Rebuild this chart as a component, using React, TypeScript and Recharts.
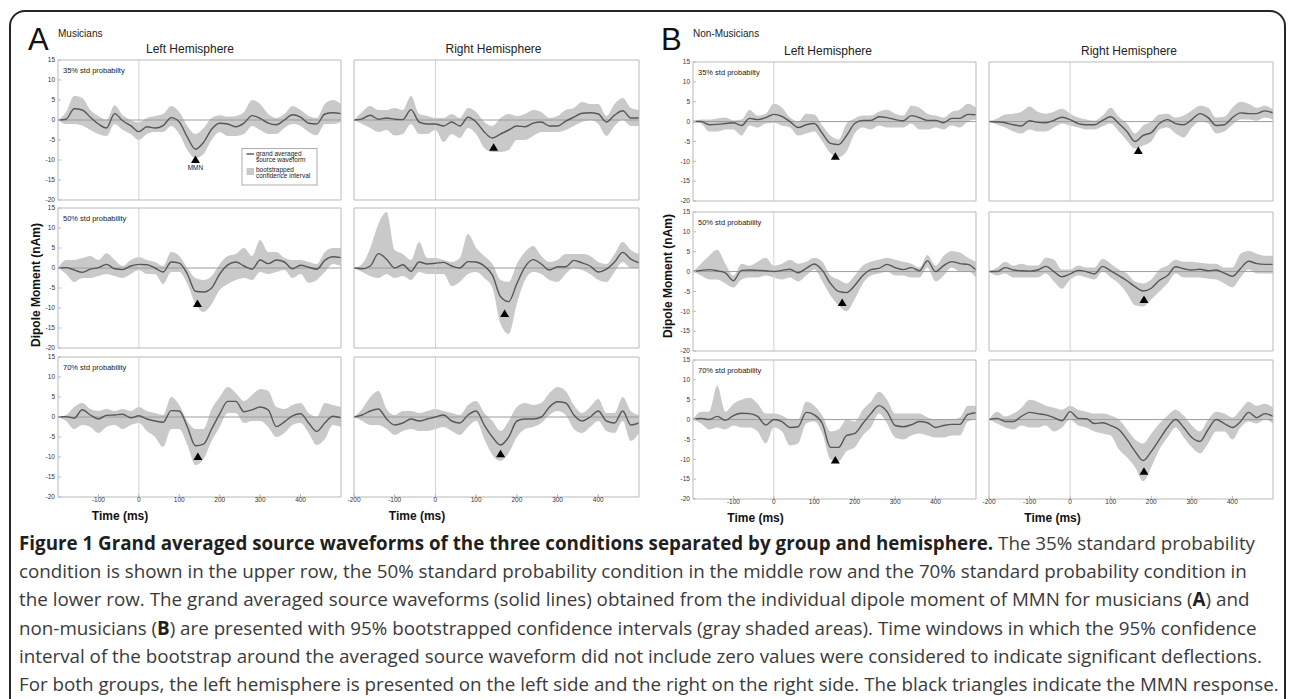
import {
    Area,
    ComposedChart,
    Line,
    ReferenceDot,
    ReferenceLine,
    XAxis,
    YAxis,
} from 'recharts';

// time axis (ms), sampled every 20 ms
const times = [
    -200, -180, -160, -140, -120, -100, -80, -60, -40, -20, 0, 20, 40, 60, 80, 100, 120, 140,
    160, 180, 200, 220, 240, 260, 280, 300, 320, 340, 360, 380, 400, 420, 440, 460, 480, 500,
];
const momentTicks = [-20, -15, -10, -5, 0, 5, 10, 15];
const innerTimeTicks = [-100, 0, 100, 200, 300, 400];
const edgeTimeTicks = [-200, -100, 0, 100, 200, 300, 400];

// Musicians, left hemisphere, 35%
const musL35Mean = [0, 0.2, 2.8, 2.5, 0.7, -1, -2, 1.6, -0.2, -1.4, -2.9, -1.7, -2, -1.4, 0.6, -0.5, -4.3, -7.3, -5.6, -2.3, -0.8, -1, -1.7, -0.8, 1.1, 0.4, -0.8, -1.2, 0, 1.3, 0.7, -0.8, -1, 1.5, 1.8, 1.6];
const musL35High = [0, 2, 6, 5.5, 2.5, 1, 0, 3.7, 1.2, 0, -0.6, 0.5, 1, 1.5, 3.5, 2, -1.5, -3.5, -2, 0.5, 1.2, 0.8, 1, 2, 5, 4, 1.5, 0.5, 1.5, 3.5, 2.5, 1, 0.5, 4, 5, 4];
const musL35Low = [0, -1, -1, -1.4, -2.5, -3.5, -4, -1, -2.5, -3.5, -5, -3.5, -3, -3, -1.5, -3.5, -7.5, -9.5, -8.5, -5, -3, -4, -4, -3.5, -1.5, -2.5, -3.5, -3.5, -2, -1, -1.5, -3, -3.8, -1, -1, -0.5];

// Musicians, right hemisphere, 35%
const musR35Mean = [0, 0.3, 1.2, 0.2, 0.5, 0.2, 0.1, 2.6, -0.5, -1, -1, -1.5, -0.5, -1.5, 0.7, -0.5, -3, -4.5, -3.5, -2.5, -1.5, -1.7, -0.8, -0.5, -1.5, -1.5, -0.3, 0.7, 1.7, 1.8, 1.5, -0.5, 1.2, 2.3, 0.5, 0.5];
const musR35High = [0, 2, 3.5, 2.5, 2.5, 3, 2.5, 6, 1.5, 1, 0.5, 0.5, 1.5, 0.5, 3, 2, -0.5, -1.5, 0.5, 1.5, 1, 1.5, 2.5, 2, 0.5, 1, 2.5, 3, 4.5, 4, 4, 1, 4, 5.5, 3, 2.5];
const musR35Low = [0, -1, -2, -3, -2.5, -3.9, -3.5, -1, -3.5, -3.5, -2.5, -5.5, -3.5, -4.5, -2, -3.5, -7, -8, -8, -7.5, -5, -5, -4, -3, -3, -3, -2.5, -1.5, -0.5, 0, -1, -4, -1.5, 0, -1.5, -1.5];

// Musicians, left hemisphere, 50%
const musL50Mean = [0, 0.1, -0.5, -1.1, -0.3, 0.1, 0.9, -0.2, -0.4, 0.5, 0.9, 0.8, 0, -1, 1.5, 1.2, -1.5, -5.8, -6, -5, -1.5, 0.8, 1.5, 0.5, -0.3, 2, 1.1, 2, 1.5, -0.2, 0.7, 0.2, -0.3, 1.9, 2.8, 2.6];
const musL50High = [0, 2, 2, 2.5, 3, 2, 3.7, 2, 0.5, 2, 2.7, 2, 1.5, 0.5, 4, 3, 0, -2.5, -3, -2, 1, 3, 3.5, 5, 3, 7, 4, 4, 2.5, 2, 2, 1.5, 1, 4, 5, 5];
const musL50Low = [0, -1.5, -3.5, -2.5, -2.5, -2, -1.5, -2, -2.5, -1.5, -0.5, -1.5, -1.5, -4, -1, -1, -4, -9, -11, -9, -5.5, -4, -3, -2.5, -3, -1, -1.5, -1, -0.5, -2.5, -1.5, -3.7, -3, -1, 1, 0.5];

// Musicians, right hemisphere, 50%
const musR50Mean = [0, -0.2, 0.5, 3.6, 2.2, 0, 0.8, -0.8, 1.5, 1, 1.2, 1.4, 0.5, 0, 1.6, 1.5, 0.5, -1.8, -7.2, -8.4, -3.9, 0.3, 2.1, 1, -0.5, 0.3, 0.3, 1.9, 1.3, 0.5, -1, -0.3, 1.5, 3.9, 2.2, 1.3];
const musR50High = [0, 1, 5, 11, 14, 4.5, 3.5, 2, 6.5, 2.5, 2.5, 2, 1.5, 2.5, 8.5, 5, 3, 1, -3, -3.5, 1, 4, 5.5, 3, 1.5, 2, 3.5, 3.5, 3.5, 3, 1.5, 1, 3.5, 6.5, 4.5, 3.5];
const musR50Low = [0, -1, -2, -2.5, -1.5, -2.5, -2, -3, -1, -1.5, -1.5, -1.5, -4.5, -3.5, -1.5, -1, -2.5, -5, -14, -16.5, -9, -3, -1, -1.5, -3, -3.5, -1.5, 0, -0.5, -1.5, -3, -3.5, -1, 1.5, 0, 0];

// Musicians, left hemisphere, 70%
const musL70Mean = [0, 0.1, -0.3, 1.8, 0.5, -0.5, 0.4, 0.5, 0.7, -0.2, 0.3, -0.5, -1, -1.3, 1.6, 1.5, -2.5, -7.2, -6.8, -3, 0.8, 3.9, 3.9, 1.3, 1.8, 2.5, 1.8, -2.4, -1.2, 0.3, 0.8, -1.5, -3.6, -1.5, 0.2, -0.2];
const musL70High = [0, 0.5, 2.5, 3.5, 2, 1.5, 2, 1.5, 2, 1.5, 2.5, 1.5, 1, 0.5, 5, 3, -1, -3, -3, 2, 5, 7.5, 6, 4, 5.5, 7, 6.5, 2.5, 2, 3, 3.5, 1, 0, 3.5, 3, 2.5];
const musL70Low = [0, -1, -3, -2, -2.5, -4, -2.5, -2, -3, -2, -1.5, -3.5, -5, -7.5, -3, -3, -7, -12, -10.5, -6, -2.5, 1, 1, -1.5, -1, -1, -2.5, -5, -4, -2, -1.5, -4, -7, -5.5, -2, -2.5];

// Musicians, right hemisphere, 70%
const musR70Mean = [0, 0.5, 1.5, 2, -0.5, -2, -1.5, -0.5, -1, -0.5, 0, 0.5, -1, -1.5, 0.5, 1.5, -2, -5, -7, -5, -1, -0.5, -0.5, 0, 2.5, 3.8, 3.5, 0.5, -1, 0, 1.5, -1, -1.5, 1.5, -2, -1.5];
const musR70High = [0, 2, 5, 6.5, 2, 0.5, 1.5, 1.5, 1, 1.5, 2, 1.5, 1, 0.5, 3, 4, 1, -1, -3.5, -1, 2.5, 3.5, 3, 3.5, 6, 7.5, 6.5, 3, 1, 2.5, 4.5, 1, 1, 5, 1.5, 0.5];
const musR70Low = [0, -1, -2, -2, -3, -4.5, -3.5, -3, -3.5, -3.5, -3, -2.5, -3.5, -4.5, -2.5, -1, -5.5, -9.5, -11, -9, -5, -3, -2.5, -1.5, 0.5, 1.5, 0.5, -3, -4, -2.5, -1, -3.5, -4, -1, -6, -4];

// Non-musicians, left hemisphere, 35%
const nonL35Mean = [0, 0, -0.8, -0.7, -0.5, -0.3, -1, 0.8, 0.5, 1, 1.8, 1.3, 0, -1.5, -0.8, -0.5, -3, -5.5, -5.8, -3.5, -0.5, 0.3, 0.3, 1.2, 1, 0.5, 0.2, 1.5, 1, 0.3, 0.3, -0.3, 0.8, 0.8, 1.8, 1.7];
const nonL35High = [0, 0.5, 0.5, 0.8, 1, 0.3, 0.5, 3, 1.5, 2, 4.5, 3.5, 1, 0, 2, 1.8, -1, -3.5, -4.5, -0.5, 0.8, 1.5, 1.5, 2.5, 3, 2, 1.5, 4, 3.5, 2, 1.5, 1, 2.5, 3, 4.5, 3.5];
const nonL35Low = [0, -0.5, -2.5, -2.5, -2, -2, -3.5, -1, -1.5, -0.5, -0.3, -1, -1.5, -3.5, -3, -2.5, -5, -8, -9, -7.5, -3, -1.5, -2, -1, -1.5, -1.5, -1.5, -0.5, -2, -2, -1.5, -2, -1, -1.5, 0, 0.5];

// Non-musicians, right hemisphere, 35%
const nonR35Mean = [0, -0.1, -0.3, -0.8, -1.1, 0.2, -0.2, -0.3, 0.3, 1.1, 0.5, -0.5, -0.8, -0.8, 0.3, 1.2, -0.5, -2.5, -5, -3.5, -2.8, -0.5, 0.5, -0.5, -0.8, 0.5, 2, 1, -1, -0.8, 1, 2.2, 2, 2, 2.7, 2.2];
const nonR35High = [0, 0.8, 1.8, 2, 2.5, 3.8, 2.5, 2, 2.5, 3.2, 2, 1, 0.5, 0.2, 1.5, 3.5, 1.2, -0.5, -3, -1, 0, 1.8, 2, 1, 1.5, 2.8, 4, 3.5, 1, 1.2, 3.5, 5, 4.5, 3.5, 4, 3];
const nonR35Low = [0, -0.8, -1.5, -2.5, -3, -2, -2.5, -2.5, -1.5, -0.5, -1, -1.5, -2, -2, -1.2, -0.5, -2.5, -4.8, -6.8, -6, -5, -2, -1.5, -3, -4, -1.5, 0, -0.5, -3, -2.5, -0.8, 0.5, 0.5, 0.2, 1, 0.5];

// Non-musicians, left hemisphere, 50%
const nonL50Mean = [0, 0.3, 0.5, 0.2, -0.3, -2.3, 0.3, 0.4, 0.3, 0.2, 0, 0.3, 0.6, -0.3, 0.8, 1.9, 0.3, -3, -5, -5.3, -3.5, -1, 0.5, 0.8, 1.8, 1, 0.5, 1, 0.2, 2.7, 0, 1.5, 2.5, 2, 1.8, 0.4];
const nonL50High = [0, 2, 4, 5.5, 2, -1, 2, 1.5, 2.5, 3.5, 1.5, 2, 3, 2, 2.5, 3.5, 2.5, -1, -2, -3, -1, 1.5, 2.5, 3, 3.5, 3, 2.5, 2, 1, 4.2, 1.5, 4, 5.2, 4.8, 3.5, 2.5];
const nonL50Low = [0, -1, -2, -2, -3, -4, -2, -1.5, -1.5, -1, -1.5, -2, -1.5, -2.5, -1, 0.5, -2.5, -6, -8.5, -10, -7, -3, -1, -0.5, 0, -1, -1, -1.5, -1.5, 1, -2.5, -1, 1, 0, 0, -1.5];

// Non-musicians, right hemisphere, 50%
const nonR50Mean = [0, 0, 1, 0.4, 0.2, 0.1, 0.4, 1.3, 0, -1.3, -0.6, 0.3, 0, -0.6, 1.3, 0.2, -1, -2.3, -3.8, -4.9, -4.2, -2.2, -1, 1.2, 0.7, 0.4, 0.6, 0.2, 0.4, -0.4, -1.2, 0.8, 2.6, 2, 1.8, 1.8];
const nonR50High = [0, 1, 2.5, 1.5, 2, 1.5, 1.5, 3.5, 3, 0.5, 0.5, 1.5, 1, 1, 3.2, 2, 0.5, -0.5, -2.5, -3, -2, 0.5, 1.5, 3, 2.5, 2.5, 2.2, 2, 2, 1, 1, 4.5, 5.2, 4.5, 4, 4];
const nonR50Low = [0, -1, -0.5, -1.5, -1.5, -1.5, -1.5, -0.5, -2.5, -4.3, -2, -1, -1.5, -2, 0, -1.5, -3, -5.5, -8.5, -8.8, -7, -5, -3, -0.5, -1.5, -1.5, -1.5, -1.8, -2, -3, -4, -1.5, 0.5, -0.5, -0.5, -0.5];

// Non-musicians, left hemisphere, 70%
const nonL70Mean = [0, 0.3, 0, 0.8, -0.2, 1, 1.6, 1.5, 0.8, -1.4, 0, -0.5, -2, -1.8, 1.8, 1.2, -1, -7, -7, -4, -3.5, -1, 1.5, 3.5, 2, -1.5, -1.8, -1.3, -0.5, -0.8, -2, -1.5, -1.2, -1.2, 1.3, 1.7];
const nonL70High = [0, 2, 2, 8.5, 2, 4, 5, 5.5, 4, 1.5, 1.5, 1, 0, 0, 4.5, 3.5, 1, -3, -2.5, 0, -0.5, 2.5, 4.5, 7, 5, 1.5, 1.5, 1.5, 1.5, 0.5, 0, 0, 0, 0.5, 3.5, 3.5];
const nonL70Low = [0, -1, -2.5, -2, -2.5, -1.5, -2, -2, -3, -6, -2, -3, -6.5, -6, -1, -0.5, -3.5, -10, -10.5, -8, -7, -4, -2, 1.5, -1, -4.5, -5, -4, -3.5, -4, -4.5, -4.5, -4, -4, -0.5, 0];

// Non-musicians, right hemisphere, 70%
const nonR70Mean = [0, 0.3, -0.5, -0.5, 0.8, 1.8, 1.5, 1.2, 0.5, -0.3, 2, 0.3, 0.2, -1, -0.8, -1.5, -2.5, -5, -8, -10.3, -8, -5, -2, 0, -2, -4.5, -5.5, -2.5, 0, -1, -2, -0.5, 1.8, 0.5, 1.5, 0.8];
const nonR70High = [0, 2, 0.8, 1.5, 3, 5, 4.5, 3.5, 3, 2.5, 3.5, 2.5, 2, 1.5, 1.5, 1, 0, -2.5, -5, -6, -3.5, -1, 1, 2.5, 1, -1.5, -3, 0, 2, 1.5, 0.5, 2.5, 4.5, 3.5, 4, 3];
const nonR70Low = [0, -1, -2, -2.5, -1.5, -2, -2, -1.5, -3, -2, 0, -1.5, -2, -3, -3.5, -4, -7.5, -9.5, -12, -15.5, -12, -7.5, -4.5, -2, -4.5, -7, -8.5, -6, -3, -3, -5, -2, -0.5, -1, 0, -1];

// MMN triangles, same panel order as below
const mmnTime = [140, 143, 145, 170, 146, 160, 152, 168, 169, 182, 152, 182];
const mmnValue = [-8.9, -5.8, -7.9, -10.4, -8.9, -8.2, -7.75, -6.25, -6.8, -6, -9.2, -12];

const conditionLabels = ['35% std probabilty', '50% std probability', '70% std probability'];

const captionTitle =
    'Figure 1 Grand averaged source waveforms of the three conditions separated by group and hemisphere.';
const captionLines: Array<Array<[string, boolean]>> = [
    [[captionTitle, true], [' The 35% standard probability', false]],
    [[
        'condition is shown in the upper row, the 50% standard probability condition in the middle row and the 70% standard probability condition in',
        false,
    ]],
    [
        ['the lower row. The grand averaged source waveforms (solid lines) obtained from the individual dipole moment of MMN for musicians (', false],
        ['A', true],
        [') and', false],
    ],
    [
        ['non-musicians (', false],
        ['B', true],
        [') are presented with 95% bootstrapped confidence intervals (gray shaded areas). Time windows in which the 95% confidence', false],
    ],
    [[
        'interval of the bootstrap around the averaged source waveform did not include zero values were considered to indicate significant deflections.',
        false,
    ]],
    [[
        'For both groups, the left hemisphere is presented on the left side and the right on the right side. The black triangles indicate the MMN response.',
        false,
    ]],
];

type PanelSpec = {
    mean: number[];
    low: number[];
    high: number[];
    x: number;
    y: number;
    w: number;
    h: number;
    col: number;
    row: number;
};

const seriesByPanel = [
    [musL35Mean, musL35Low, musL35High],
    [musR35Mean, musR35Low, musR35High],
    [musL50Mean, musL50Low, musL50High],
    [musR50Mean, musR50Low, musR50High],
    [musL70Mean, musL70Low, musL70High],
    [musR70Mean, musR70Low, musR70High],
    [nonL35Mean, nonL35Low, nonL35High],
    [nonR35Mean, nonR35Low, nonR35High],
    [nonL50Mean, nonL50Low, nonL50High],
    [nonR50Mean, nonR50Low, nonR50High],
    [nonL70Mean, nonL70Low, nonL70High],
    [nonR70Mean, nonR70Low, nonR70High],
];

// plot boxes of the two figure halves
const GROUP_BOXES = [
    { cols: [{ x: 58, w: 283 }, { x: 354, w: 285 }], rows: [60, 208, 357], h: 140 },
    { cols: [{ x: 693, w: 283 }, { x: 989, w: 284 }], rows: [62, 212, 360], h: 139 },
];

const panels: PanelSpec[] = seriesByPanel.map(([mean, low, high], i) => {
    const group = GROUP_BOXES[Math.floor(i / 6)];
    const row = Math.floor((i % 6) / 2);
    const col = i % 2;
    return { mean, low, high, x: group.cols[col].x, y: group.rows[row], w: group.cols[col].w, h: group.h, col, row };
});

const ARIAL = 'Arial, "Liberation Sans", sans-serif';
const AXIS_COLOR = '#b9b9b9';
const BAND_COLOR = '#c9c9c9';
const LINE_COLOR = '#575757';
const TICK_STYLE = { fontSize: 6.5, fill: '#333', fontFamily: ARIAL };
const TOP_PAD = 8;

const MmnMarker = (props: any) => {
    const { cx, cy, note } = props;
    if (cx == null || cy == null) return null;
    return (
        <g>
            <path d={`M${cx},${cy} L${cx - 4.5},${cy + 7.5} L${cx + 4.5},${cy + 7.5} Z`} fill='#000' />
            {note ? (
                <text x={cx} y={cy + 14.5} textAnchor='middle' fontSize={6.5} fill='#222' fontFamily={ARIAL}>
                    {note}
                </text>
            ) : null}
        </g>
    );
};

const WaveformPanel = ({ panel, index }: { panel: PanelSpec; index: number }) => {
    const rows = times.map((t, i) => ({ t, mean: panel.mean[i], band: [panel.low[i], panel.high[i]] }));
    const xTicks = panel.col === 0 ? innerTimeTicks : edgeTimeTicks;
    const note = index === 0 ? 'MMN' : undefined;

    return (
        <div style={{ position: 'absolute', left: panel.x - 30, top: panel.y - TOP_PAD }}>
            <ComposedChart
                width={panel.w + 32}
                height={panel.h + TOP_PAD + 12}
                data={rows}
                margin={{ top: 0, right: 0, bottom: 0, left: 0 }}
            >
                <XAxis
                    dataKey='t'
                    type='number'
                    domain={[-200, 500]}
                    ticks={xTicks}
                    interval={0}
                    height={12}
                    stroke={AXIS_COLOR}
                    tickSize={-3}
                    tickMargin={3.5}
                    tick={panel.row === 2 ? TICK_STYLE : false}
                    allowDataOverflow
                />
                <XAxis
                    xAxisId='top'
                    orientation='top'
                    type='number'
                    domain={[-200, 500]}
                    ticks={xTicks}
                    interval={0}
                    height={TOP_PAD}
                    stroke={AXIS_COLOR}
                    tickSize={-3}
                    tick={false}
                />
                <YAxis
                    type='number'
                    domain={[-20, 15]}
                    ticks={momentTicks}
                    interval={0}
                    width={30}
                    stroke={AXIS_COLOR}
                    tickSize={-3}
                    tickMargin={6}
                    tick={panel.col === 0 ? TICK_STYLE : false}
                    allowDataOverflow
                />
                <YAxis
                    yAxisId='right'
                    orientation='right'
                    type='number'
                    domain={[-20, 15]}
                    ticks={momentTicks}
                    interval={0}
                    width={2}
                    stroke={AXIS_COLOR}
                    tickSize={-3}
                    tick={false}
                />
                <ReferenceLine x={0} stroke='#d2d2d2' strokeWidth={1} />
                <Area
                    type='monotone'
                    dataKey='band'
                    fill={BAND_COLOR}
                    fillOpacity={1}
                    stroke='none'
                    isAnimationActive={false}
                    dot={false}
                    activeDot={false}
                />
                <ReferenceLine y={0} stroke='#9c9c9c' strokeWidth={1} />
                <Line
                    type='monotone'
                    dataKey='mean'
                    stroke={LINE_COLOR}
                    strokeWidth={1.4}
                    dot={false}
                    activeDot={false}
                    isAnimationActive={false}
                />
                <ReferenceDot
                    x={mmnTime[index]}
                    y={mmnValue[index]}
                    r={4}
                    ifOverflow='visible'
                    shape={(props: any) => <MmnMarker {...props} note={note} />}
                />
            </ComposedChart>
        </div>
    );
};

const FigureLabels = () => (
    <svg
        width={1290}
        height={699}
        style={{ position: 'absolute', left: 0, top: 0, pointerEvents: 'none' }}
        fontFamily={ARIAL}
    >
        <text x={28} y={50} fontSize={31} fill='#111'>A</text>
        <text x={58} y={36.5} fontSize={10} fill='#222'>Musicians</text>
        <text x={190} y={52.5} fontSize={12} fill='#222' textAnchor='middle'>Left Hemisphere</text>
        <text x={493.5} y={52.5} fontSize={12} fill='#222' textAnchor='middle'>Right Hemisphere</text>

        <text x={661} y={50} fontSize={31} fill='#111'>B</text>
        <text x={693} y={37} fontSize={10} fill='#222'>Non-Musicians</text>
        <text x={828} y={55} fontSize={12} fill='#222' textAnchor='middle'>Left Hemisphere</text>
        <text x={1129} y={55} fontSize={12} fill='#222' textAnchor='middle'>Right Hemisphere</text>

        {panels
            .filter((p) => p.col === 0)
            .map((p, i) => (
                <text key={i} x={p.x + 5} y={p.y + 12.5} fontSize={7.5} fill='#222'>
                    {conditionLabels[p.row]}
                </text>
            ))}

        <text x={40} y={285} fontSize={12} fontWeight='bold' fill='#111' textAnchor='middle' transform='rotate(-90 40 285)'>
            Dipole Moment (nAm)
        </text>
        <text x={672} y={276} fontSize={12} fontWeight='bold' fill='#111' textAnchor='middle' transform='rotate(-90 672 276)'>
            Dipole Moment (nAm)
        </text>

        <text x={120} y={519.5} fontSize={12} fontWeight='bold' fill='#111' textAnchor='middle'>Time (ms)</text>
        <text x={417} y={519.5} fontSize={12} fontWeight='bold' fill='#111' textAnchor='middle'>Time (ms)</text>
        <text x={755.5} y={522} fontSize={12} fontWeight='bold' fill='#111' textAnchor='middle'>Time (ms)</text>
        <text x={1052.5} y={522} fontSize={12} fontWeight='bold' fill='#111' textAnchor='middle'>Time (ms)</text>

        {/* legend of the first panel */}
        <rect x={242} y={148.5} width={75} height={36.5} fill='#fff' stroke='#9a9a9a' strokeWidth={0.8} />
        <line x1={246.5} y1={154} x2={254} y2={154} stroke={LINE_COLOR} strokeWidth={1.4} />
        <text x={256} y={156} fontSize={6.5} fill='#222'>grand averaged</text>
        <text x={256} y={161.5} fontSize={6.5} fill='#222'>source waveform</text>
        <rect x={246.5} y={168} width={7.5} height={7} fill={BAND_COLOR} />
        <text x={256} y={172} fontSize={6.5} fill='#222'>bootstrapped</text>
        <text x={256} y={178} fontSize={6.5} fill='#222'>confidence interval</text>
    </svg>
);

const Caption = () => (
    <>
        {captionLines.map((segments, i) => (
            <div
                key={i}
                style={{
                    position: 'absolute',
                    left: 19,
                    top: 530 + i * 28.2,
                    whiteSpace: 'nowrap',
                    fontFamily: '"Open Sans", sans-serif',
                    fontSize: 18.8,
                    lineHeight: '26px',
                    color: '#3a3a3a',
                }}
            >
                {segments.map(([text, bold], j) => (
                    <span key={j} style={bold ? { fontWeight: 700, color: '#1f1f1f' } : undefined}>
                        {text}
                    </span>
                ))}
            </div>
        ))}
    </>
);

export default function App() {
    return (
        <div style={{ position: 'relative', width: 1290, height: 699, overflow: 'hidden', background: '#fff' }}>
            <style>{'body{margin:0;overflow:hidden}'}</style>
            <div
                style={{
                    position: 'absolute',
                    left: 9,
                    top: 10,
                    width: 1277,
                    height: 760,
                    border: '2px solid #262626',
                    borderRadius: 16,
                    boxSizing: 'border-box',
                }}
            />
            {panels.map((panel, i) => (
                <WaveformPanel key={i} panel={panel} index={i} />
            ))}
            <FigureLabels />
            <Caption />
        </div>
    );
}
